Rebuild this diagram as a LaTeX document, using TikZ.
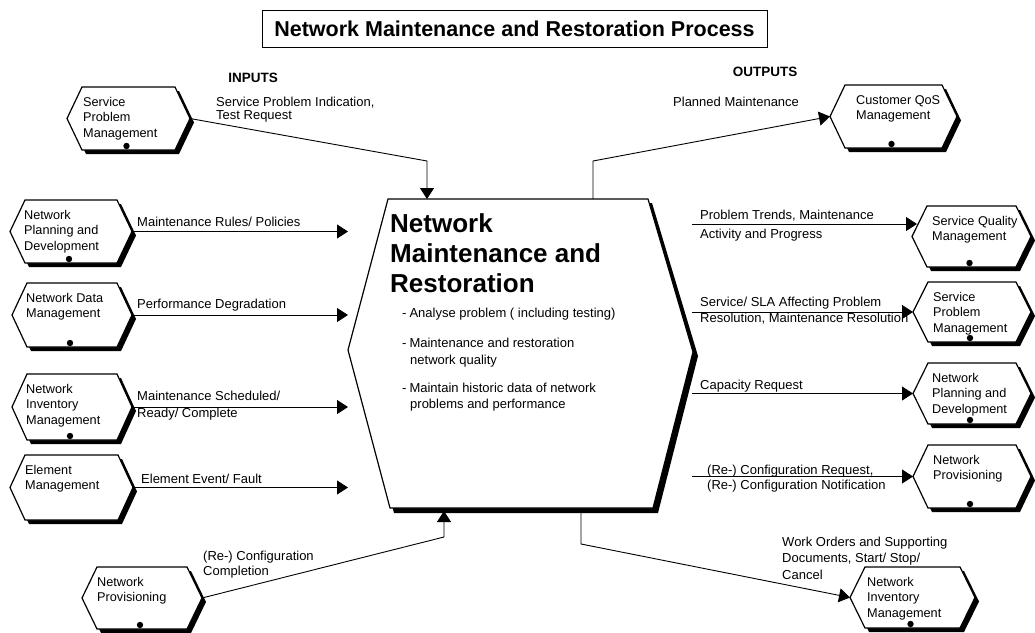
\documentclass[tikz,border=0pt]{standalone}
\usepackage{fontspec}
\setmainfont{Liberation Sans}
\usetikzlibrary{calc,arrows.meta}

\tikzset{
  wire/.style={line width=0.9pt},
  flow/.style={wire,-{Triangle[length=11pt,width=14pt]}},
  hexframe/.style={draw=none,inner sep=0pt,outer sep=0pt},
  hexline/.style={draw=black,fill=white,line width=1.2pt,line join=miter},
  hexshade/.style={fill=black},
  boxtext/.style={font=\fontsize{12.7}{15.5}\selectfont,inner sep=0pt,align=left,anchor=north west},
  lbl/.style={font=\fontsize{13}{15}\selectfont,inner sep=0pt,anchor=base west},
  head/.style={font=\bfseries\fontsize{13.5}{16}\selectfont,inner sep=0pt},
  coretitle/.style={font=\bfseries\fontsize{26}{30}\selectfont,inner sep=0pt,anchor=base west},
  bullet/.style={font=\fontsize{13}{15}\selectfont,inner sep=0pt,anchor=base west},
}

% #1 name, #2 left x, #3 top y, #4 right x, #5 bottom y, #6 text, #7 text indent, #8 dot (1/0)
\newcommand\procbox[8]{%
  \node[hexframe,minimum width={#4pt-#2pt},minimum height={#5pt-#3pt}] (#1) at ({(#2+#4)/2},{(#3+#5)/2}) {};
  \fill[hexshade] ($(#1.west)+(4,4)$) -- ($(#1.north west)+(19,4)$) -- ($(#1.north east)+(-11,4)$)
     -- ($(#1.east)+(4,4)$) -- ($(#1.south east)+(-11,4)$) -- ($(#1.south west)+(19,4)$) -- cycle;
  \path[hexline] (#1.west) -- ($(#1.north west)+(15,0)$) -- ($(#1.north east)+(-15,0)$)
     -- (#1.east) -- ($(#1.south east)+(-15,0)$) -- ($(#1.south west)+(15,0)$) -- cycle;
  \node[boxtext] (#1-txt) at ($(#1.north west)+(#7,10)$) {#6};
  \ifx1#8\fill ($(#1.south)+(-2,-4)$) circle[radius=3.2pt];\fi
}

\begin{document}
\begin{tikzpicture}[x=1pt,y=-1pt]
  \useasboundingbox (0,0) rectangle (1035,632);
  \fill[white] (0,0) rectangle (1035,632);

  % heading
  \node[draw,line width=1pt,minimum width=505pt,minimum height=37pt,
        font=\bfseries\fontsize{21.5}{25}\selectfont] (title) at (514.5,28.5)
        {Network Maintenance and Restoration Process\hspace{14pt}};
  \node[head] (inputs) at (253,78) {INPUTS};
  \node[head] (outputs) at (765,72) {OUTPUTS};

  % central process
  \node[hexframe,minimum width=345pt,minimum height=309pt] (core) at (520.5,353.5) {};
  \fill[hexshade] (392,203) -- (652,203) -- (698,356) -- (658,513) -- (394,513) -- (352,354) -- cycle;
  \path[hexline] (388,199) -- (648,199) -- (693,352) -- (653,508) -- (390,508) -- (348,350) -- cycle;
  \node[coretitle] (ct1) at (390,232) {Network};
  \node[coretitle] (ct2) at (390,262) {Maintenance and};
  \node[coretitle] (ct3) at (390,292) {Restoration};
  \node[bullet] (b1) at (402,317) {-\hspace{3pt}Analyse problem ( including testing)};
  \node[bullet] (b2) at (402,347) {-\hspace{3pt}Maintenance and restoration};
  \node[bullet] (b2b) at (410,364) {network quality};
  \node[bullet] (b3) at (402,392) {-\hspace{3pt}Maintain historic data of network};
  \node[bullet] (b3b) at (410,408) {problems and performance};

  % input processes
  \procbox{spmi}{67}{87}{190}{150}{Service\\Problem\\Management}{16}{1}
  \procbox{npdi}{10}{200}{132}{263}{Network\\Planning and\\Development}{14}{1}
  \procbox{ndmi}{12}{283}{132}{347}{Network Data\\Management}{14}{1}
  \procbox{nimi}{12}{374}{132}{440}{Network\\Inventory\\Management}{14}{1}
  \procbox{emi}{10}{455}{133}{520}{Element\\Management}{15}{0}
  \procbox{npi}{82}{567}{202}{629}{Network\\Provisioning}{15}{1}

  % output processes
  \procbox{cqm}{830}{85}{957}{148}{Customer QoS\\Management}{26}{1}
  \procbox{sqm}{912}{206}{1031}{267}{Service Quality\\Management}{20}{1}
  \procbox{spmo}{913}{282}{1031}{342}{Service\\Problem\\Management}{20}{1}
  \procbox{npdo}{913}{363}{1031}{424}{Network\\Planning and\\Development}{19}{1}
  \procbox{npo}{913}{445}{1031}{508}{Network\\Provisioning}{20}{1}
  \procbox{nimo}{850}{567}{975}{628}{Network\\Inventory\\Management}{17}{1}

  % bends and stop points of the flows
  \coordinate (inTop) at (427,161);
  \coordinate (outTop) at (593,161);
  \coordinate (inBot) at (444,537);
  \coordinate (outBot) at (581,544);
  \coordinate (leftStop) at (348,0);
  \coordinate (rightStart) at (692,0);
  \coordinate (sqmIn) at (692,224);

  % inputs
  \draw[flow] (spmi.east) -- (inTop) -- (inTop |- core.north);
  \foreach \b in {npdi,ndmi,nimi,emi}
    \draw[flow] (\b.east) -- (\b.east -| leftStop);
  \draw[flow] (npi.east) -- (inBot) -- ($(inBot |- core.south)+(0,3)$);

  % outputs
  \draw[flow] (outTop |- core.north) -- (outTop) -- (cqm.west);
  \draw[flow] (sqmIn) -- ($(sqmIn -| sqm.west)+(5,0)$);
  \foreach \b in {spmo,npdo,npo}
    \draw[flow] (rightStart |- \b.west) -- (\b.west);
  \draw[flow] ($(outBot |- core.south)+(0,5)$) -- (outBot) -- (nimo.west);

  % flow labels, inputs
  \node[lbl] (l1a) at (216,106) {Service Problem Indication,};
  \node[lbl] (l1b) at (216,119) {Test Request};
  \node[lbl] (l2) at (137,226) {Maintenance Rules/ Policies};
  \node[lbl] (l3) at (137,308) {Performance Degradation};
  \node[lbl] (l4a) at (137,400) {Maintenance Scheduled/};
  \node[lbl] (l4b) at (137,417) {Ready/ Complete};
  \node[lbl] (l5) at (141,483) {Element Event/ Fault};
  \node[lbl] (l6a) at (203,560) {(Re-) Configuration};
  \node[lbl] (l6b) at (203,575) {Completion};

  % flow labels, outputs
  \node[lbl] (r1) at (673,106) {Planned Maintenance};
  \node[lbl] (r2a) at (700,219) {Problem Trends, Maintenance};
  \node[lbl] (r2b) at (700,238) {Activity and Progress};
  \node[lbl] (r3a) at (700,306) {Service/ SLA Affecting Problem};
  \node[lbl] (r3b) at (700,322) {Resolution, Maintenance Resolution};
  \node[lbl] (r4) at (700,389) {Capacity Request};
  \node[lbl] (r5a) at (707,474) {(Re-) Configuration Request,};
  \node[lbl] (r5b) at (707,489) {(Re-) Configuration Notification};
  \node[lbl] (r6a) at (782,546) {Work Orders and Supporting};
  \node[lbl] (r6b) at (782,562) {Documents, Start/ Stop/};
  \node[lbl] (r6c) at (782,579) {Cancel};
\end{tikzpicture}
\end{document}
